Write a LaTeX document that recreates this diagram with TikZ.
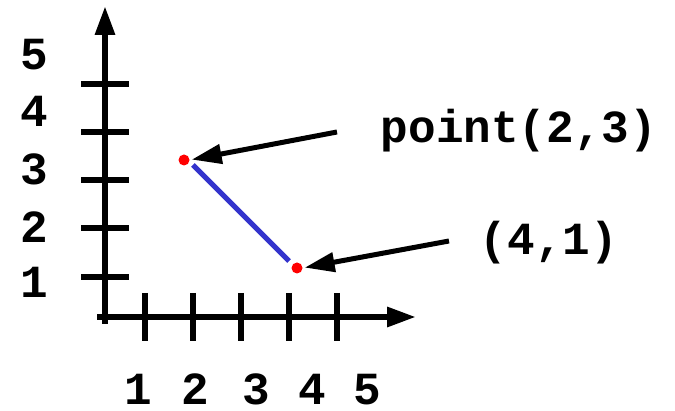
\documentclass[tikz,border=0pt]{standalone}
\usepackage{fontspec}
\setmainfont{Liberation Mono}
\usetikzlibrary{arrows.meta}
\definecolor{segblue}{RGB}{51,51,204}
\tikzset{
  axis/.style={line width=6pt, -{Triangle[length=29pt,width=19pt]}},
  tick/.style={line width=6pt},
  lbl/.style={anchor=base, inner sep=0pt, font=\fontsize{46}{54}\selectfont\bfseries},
  pt/.style={circle, fill=red, inner sep=0pt, minimum size=11pt},
  seg/.style={segblue, line width=5pt},
  pointer/.style={line width=5pt, -{Triangle[length=30pt,width=19pt]}, shorten >=2pt}
}
\begin{document}
\begin{tikzpicture}[x=1pt,y=-1pt]
\useasboundingbox (0,0) rectangle (675,411);
% axes
\coordinate (ybot) at (105,324);
\coordinate (ytop) at (105,6);
\coordinate (xl) at (97,317);
\coordinate (xr) at (416,317);
\draw[axis] (ybot) -- (ytop);
\draw[axis] (xl) -- (xr);
% y ticks
\foreach \y/\n in {84/a,132/b,180/c,228/d,277/e}{
  \coordinate (yt\n l) at (81,\y);
  \coordinate (yt\n r) at (129,\y);
  \draw[tick] (yt\n l) -- (yt\n r);
}
% x ticks
\foreach \x/\n in {145/a,193/b,241/c,289/d,337/e}{
  \coordinate (xt\n t) at (\x,293);
  \coordinate (xt\n b) at (\x,341);
  \draw[tick] (xt\n t) -- (xt\n b);
}
% y labels
\node[lbl] (y5) at (34,70) {5};
\node[lbl] (y4) at (34,127) {4};
\node[lbl] (y3) at (34,185) {3};
\node[lbl] (y2) at (34,243) {2};
\node[lbl] (y1) at (34,298) {1};
% x labels
\node[lbl] (x1) at (138,405) {1};
\node[lbl] (x2) at (195,405) {2};
\node[lbl] (x3) at (256,405) {3};
\node[lbl] (x4) at (312,405) {4};
\node[lbl] (x5) at (367,405) {5};
% points and segment
\node[pt] (p23) at (184,160) {};
\node[pt] (p41) at (297,268) {};
\coordinate (s1) at (193,165);
\coordinate (s2) at (289,261);
\draw[seg] (s1) -- (s2);
% labels and pointers
\node[lbl] (l23) at (519,143) {point(2,3)};
\node[lbl] (l41) at (549,255) {(4,1)};
\coordinate (a1) at (337,132);
\coordinate (a2) at (449,241);
\draw[pointer] (a1) -- (p23.east);
\draw[pointer] (a2) -- (p41.east);
\end{tikzpicture}
\end{document}
